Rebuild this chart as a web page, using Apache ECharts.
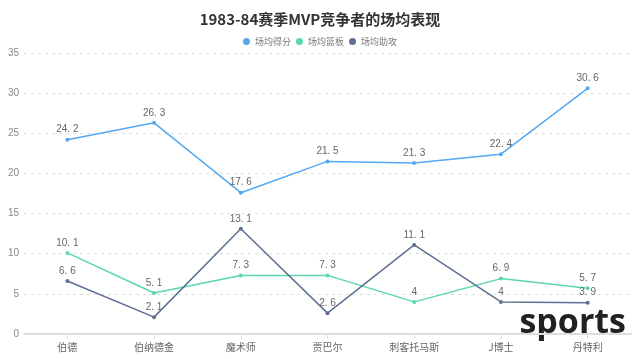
<!DOCTYPE html>
<html><head><meta charset="utf-8">
<script src="https://cdn.jsdelivr.net/npm/echarts@6/dist/echarts.min.js"></script>
<style>html,body{margin:0;padding:0;background:#fff}#c{width:640px;height:359px}</style>
</head><body><div id="c"></div>
<script>
const categories = ['伯德','伯纳德金','魔术师','贾巴尔','刺客托马斯','J博士','丹特利'];
const points = [24.2, 26.3, 17.6, 21.5, 21.3, 22.4, 30.6];
const rebounds = [10.1, 5.1, 7.3, 7.3, 4, 6.9, 5.7];
const assists = [6.6, 2.1, 13.1, 2.6, 11.1, 4, 3.9];
const seriesNames = ['场均得分','场均篮板','场均助攻'];
const colors = ['#55A8F2','#5AD8A6','#5D7092'];

const chart = echarts.init(document.getElementById('c'));
const mk = (name, data, color) => ({
  name, type: 'line', data,
  symbol: 'circle', symbolSize: 4,
  lineStyle: { width: 1.5, color },
  itemStyle: { color },
  label: { show: true, position: 'top', distance: 3, color: '#666', fontSize: 10,
    fontFamily: 'Liberation Sans', formatter: p => String(p.value).replace('.', '. ') }
});
chart.setOption({
  backgroundColor: '#fff',
  title: { text: '1983-84赛季MVP竞争者的场均表现', left: 'center', top: 7,
    textStyle: { fontSize: 15, fontWeight: 'bold', color: '#333', fontFamily: 'Noto Sans CJK SC' } },
  legend: { top: 32, left: 'center', icon: 'circle', itemWidth: 7, itemHeight: 7, itemGap: 5,
    textStyle: { color: '#777', fontSize: 9, fontFamily: 'Noto Sans CJK SC' } },
  grid: { left: 24, right: 9, top: 53, bottom: 25, containLabel: false },
  xAxis: { type: 'category', data: categories, boundaryGap: true,
    axisLine: { lineStyle: { color: '#ddd', width: 2 } },
    axisTick: { show: true, alignWithLabel: true, lineStyle: { color: '#ddd' } },
    axisLabel: { color: '#666', fontSize: 10, fontFamily: 'Noto Sans CJK SC', margin: 8 } },
  yAxis: { type: 'value', min: 0, max: 35, interval: 5,
    axisLine: { show: false }, axisTick: { show: false },
    axisLabel: { color: '#888', fontSize: 10, margin: 5 },
    splitLine: { lineStyle: { type: [3, 4], color: '#ddd' } } },
  series: [mk(seriesNames[0], points, colors[0]), mk(seriesNames[1], rebounds, colors[1]), mk(seriesNames[2], assists, colors[2])],
  graphic: [{ type: 'text', right: 14, top: 306, style: { text: 'sports', fontSize: 34, fontWeight: 'bold', fill: '#222', fontFamily: 'Open Sans' } }]
});
</script></body></html>
